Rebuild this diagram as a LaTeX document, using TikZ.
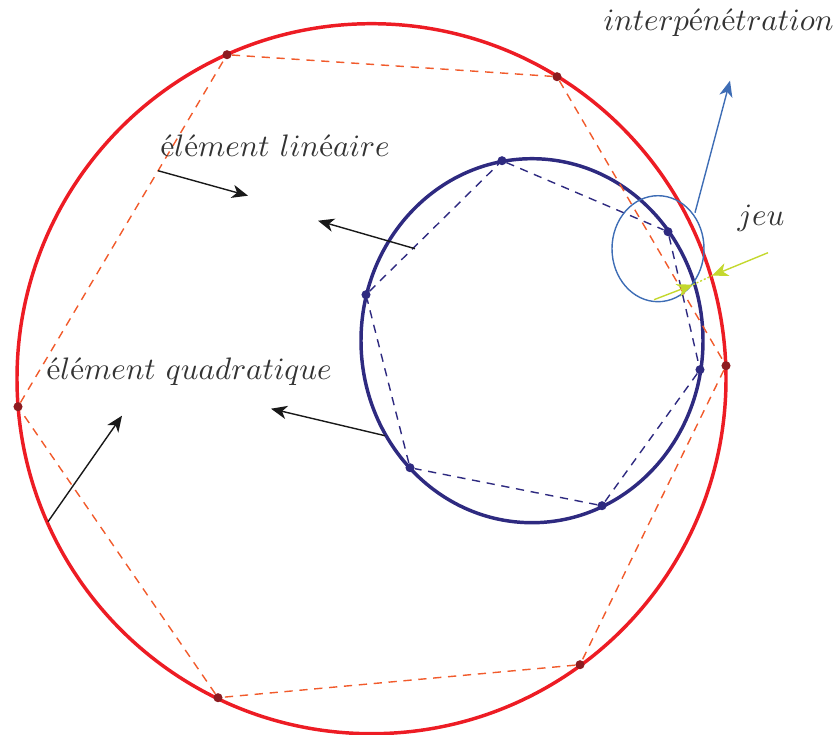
\documentclass[tikz,border=0pt]{standalone}
\usetikzlibrary{arrows.meta}
\definecolor{cred}{HTML}{ED1C24}
\definecolor{cnavy}{HTML}{2E2A80}
\definecolor{cdred}{HTML}{F15A2B}
\definecolor{cdot}{HTML}{8E1B20}
\definecolor{cblue}{HTML}{3E6DB5}
\definecolor{cgreen}{HTML}{C4D82E}
\definecolor{ctext}{HTML}{333333}
\newcommand{\ee}{\mbox{\fontsize{10}{12}\selectfont é}}
\tikzset{
  rdot/.style={circle,fill=cdot,inner sep=0pt,minimum size=6.8pt},
  bdot/.style={circle,fill=cnavy,inner sep=0pt,minimum size=6.8pt},
  rdash/.style={draw=cdred,line width=1.05pt,dash pattern=on 6.2pt off 5pt},
  bdash/.style={draw=cnavy,line width=1.05pt,dash pattern=on 6.2pt off 5pt},
  lab/.style={anchor=base west,inner sep=0pt,text=ctext,scale=2.33},
  tip/.style={-{Stealth[length=12pt,width=10pt,inset=3.5pt]}},
  karrow/.style={tip,draw=black!90,fill=black!90,line width=1.05pt},
  barrow/.style={tip,draw=cblue,line width=1.05pt},
  garrow/.style={tip,draw=cgreen,line width=1.05pt}
}
\begin{document}
\begin{tikzpicture}[x=0.75pt,y=-0.75pt]
\useasboundingbox (0,-0.7) rectangle (836,734.3);
% outer circle, inner ellipse
\draw[cred,line width=2.6pt] (371.5,378) ellipse [x radius=354.5,y radius=355];
\draw[cnavy,line width=2.6pt] (532,340) ellipse [x radius=171,y radius=182];
% vertices
\node[rdot] (r1) at (227,54) {};
\node[rdot] (r2) at (557,76) {};
\node[rdot] (r3) at (726,365) {};
\node[rdot] (r4) at (580,664) {};
\node[rdot] (r5) at (218,697) {};
\node[rdot] (r6) at (18,406) {};
\node[bdot] (b1) at (502,160) {};
\node[bdot] (b2) at (668,231) {};
\node[bdot] (b3) at (700,369) {};
\node[bdot] (b4) at (602,505) {};
\node[bdot] (b5) at (410,467) {};
\node[bdot] (b6) at (366,294) {};
\draw[rdash] (r1)--(r2);
\draw[rdash] (r2)--(r3);
\draw[rdash] (r3)--(r4);
\draw[rdash] (r4)--(r5);
\draw[rdash] (r5)--(r6);
\draw[rdash] (r6)--(r1);
\draw[bdash] (b1)--(b2);
\draw[bdash] (b2)--(b3);
\draw[bdash] (b3)--(b4);
\draw[bdash] (b4)--(b5);
\draw[bdash] (b5)--(b6);
\draw[bdash] (b6)--(b1);
% labels
\node[lab] (t1) at (603,29.5) {$interp\ee n\ee tration$};
\node[lab] (t2) at (160,155.5) {$\ee l\ee ment\ lin\ee aire$};
\node[lab] (t3) at (46,378.5) {$\ee l\ee ment\ quadratique$};
\node[lab] (t4) at (737,224.5) {$jeu$};
% arrows
\coordinate (a1s) at (158,170); \coordinate (a1e) at (248,195);
\coordinate (a2s) at (415,248); \coordinate (a2e) at (318,220);
\coordinate (a3s) at (385,435); \coordinate (a3e) at (271,408);
\coordinate (a4s) at (48,521);  \coordinate (a4e) at (122,415);
\draw[karrow] (a1s)--(a1e);
\draw[karrow] (a2s)--(a2e);
\draw[karrow] (a3s)--(a3e);
\draw[karrow] (a4s)--(a4e);
\draw[cblue,line width=1.05pt] (658,248) ellipse [x radius=46,y radius=53];
\coordinate (i1) at (695,212); \coordinate (i2) at (730,80);
\draw[barrow] (i1)--(i2);
\coordinate (j1) at (768,252); \coordinate (j2) at (712,275);
\coordinate (j3) at (654,299); \coordinate (j4) at (693,284);
\draw[garrow] (j1)--(j2);
\draw[garrow] (j3)--(j4);
\draw[cgreen,line width=1.05pt,dash pattern=on 1.5pt off 1.5pt] (j4)--(j2);
\end{tikzpicture}
\end{document}
